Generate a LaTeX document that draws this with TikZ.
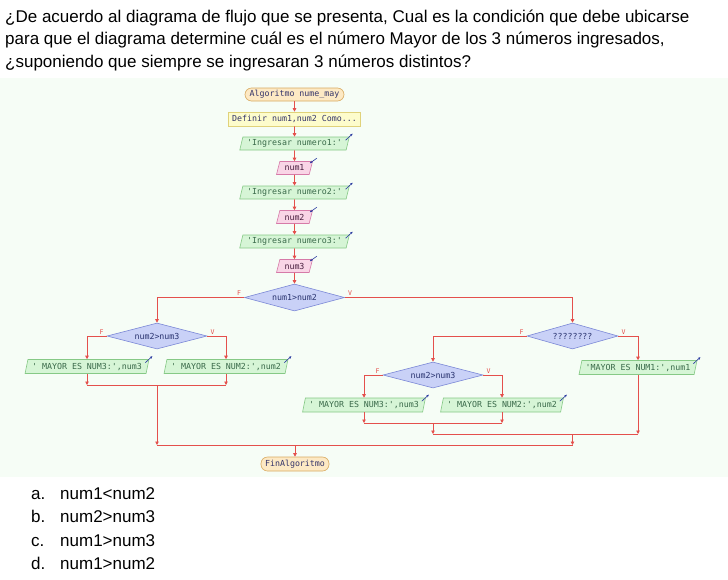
\documentclass[tikz,border=0pt]{standalone}
\usepackage{fontspec}
\setmainfont{Liberation Sans}
\newfontfamily\fmono[Ligatures=TeXOff]{DejaVu Sans Mono}
\usetikzlibrary{shapes.geometric,arrows.meta}
\definecolor{bgmint}{RGB}{246,253,246}
\definecolor{linered}{RGB}{228,80,76}
\definecolor{termfill}{RGB}{253,233,196}
\definecolor{termdraw}{RGB}{216,170,96}
\definecolor{deffill}{RGB}{253,252,204}
\definecolor{defdraw}{RGB}{224,210,122}
\definecolor{outfill}{RGB}{214,245,214}
\definecolor{outdraw}{RGB}{134,201,134}
\definecolor{infill}{RGB}{249,213,230}
\definecolor{indraw}{RGB}{214,122,168}
\definecolor{condfill}{RGB}{201,209,247}
\definecolor{conddraw}{RGB}{123,136,214}
\definecolor{txtblue}{RGB}{52,52,106}
\definecolor{txtgreen}{RGB}{58,106,74}
\definecolor{txtpink}{RGB}{74,32,64}
\definecolor{txtcond}{RGB}{42,52,112}
\definecolor{iconblue}{RGB}{42,58,160}
\tikzset{
  flow/.style={draw=linered, line width=0.8pt},
  arr/.style={flow, -{Triangle[length=3.5pt,width=3.5pt]}},
  base/.style={font=\fmono\fontsize{8.3}{9}\selectfont, inner sep=0pt, minimum height=13pt, line width=0.6pt},
  term/.style={base, rectangle, rounded corners=6.5pt, draw=termdraw, fill=termfill, text=txtblue},
  defbox/.style={base, rectangle, draw=defdraw, fill=deffill, text=txtblue, minimum height=14pt},
  io/.style={base, trapezium, trapezium left angle=70, trapezium right angle=110, trapezium stretches=true},
  outbox/.style={io, draw=outdraw, fill=outfill, text=txtgreen},
  inbox/.style={io, draw=indraw, fill=infill, text=txtpink},
  cond/.style={base, diamond, aspect=3.8, draw=conddraw, fill=condfill, text=txtcond, minimum height=26pt},
  lbl/.style={font=\fmono\fontsize{6.5}{7}\selectfont, text=linered, inner sep=0pt},
  icon/.style={draw=iconblue, line width=0.6pt, -{Stealth[length=2.6pt,width=2.4pt]}},
  qtext/.style={font=\fontsize{17}{20}\selectfont, inner sep=0pt, anchor=base west},
}
\begin{document}
\begin{tikzpicture}[x=1pt,y=-1pt]
\fill[white] (0,0) rectangle (728,579);
\useasboundingbox (0,0) rectangle (728,579);
\fill[bgmint] (0,78) rectangle (728,477);

% question
\node[qtext] (q1) at (5,22) {¿De acuerdo al diagrama de flujo que se presenta, Cual es la condición que debe ubicarse};
\node[qtext] (q2) at (5,44.5) {para que el diagrama determine cuál es el número Mayor de los 3 números ingresados,};
\node[qtext] (q3) at (5,67) {¿suponiendo que siempre se ingresaran 3 números distintos?};

% answers
\node[qtext] (la) at (31,499) {a.};
\node[qtext] (a) at (60,499) {num1<num2};
\node[qtext] (lb) at (31,522) {b.};
\node[qtext] (b) at (60,522) {num2>num3};
\node[qtext] (lc) at (31,546) {c.};
\node[qtext] (c) at (60,546) {num1>num3};
\node[qtext] (ld) at (31,569) {d.};
\node[qtext] (d) at (60,569) {num1>num2};

% main column
\node[term, minimum width=99pt] (start) at (294.5,94.5) {Algoritmo nume\_may};
\node[defbox, minimum width=132pt] (def) at (294.5,119) {Definir num1,num2 Como...};
\node[outbox, minimum width=110pt] (p1) at (294.5,143.5) {'Ingresar numero1:'};
\node[inbox, minimum width=36pt] (r1) at (294.5,168) {num1};
\node[outbox, minimum width=110pt] (p2) at (294.5,192.5) {'Ingresar numero2:'};
\node[inbox, minimum width=36pt] (r2) at (294.5,217) {num2};
\node[outbox, minimum width=110pt] (p3) at (294.5,241.5) {'Ingresar numero3:'};
\node[inbox, minimum width=36pt] (r3) at (294.5,266) {num3};
\node[cond, minimum width=100pt, minimum height=27pt] (c1) at (294.5,297.5) {num1>num2};

\draw[arr] (start) -- (def);
\draw[arr] (def) -- (p1);
\draw[arr] (p1) -- (r1);
\draw[arr] (r1) -- (p2);
\draw[arr] (p2) -- (r2);
\draw[arr] (r2) -- (p3);
\draw[arr] (p3) -- (r3);
\draw[arr] (r3) -- (c1);

% left branch
\node[cond, minimum width=100pt] (c2) at (157,336) {num2>num3};
\node[outbox, minimum width=124pt, minimum height=14pt] (oL3) at (87,366.5) {' MAYOR ES NUM3:',num3};
\node[outbox, minimum width=124pt, minimum height=14pt] (oL2) at (226,366.5) {' MAYOR ES NUM2:',num2};

% right branch
\node[cond, minimum width=91pt] (c3) at (572.5,336) {????????};
\node[outbox, minimum width=118pt, minimum height=14pt] (oR1) at (638,367.5) {'MAYOR ES NUM1:',num1};
\node[cond, minimum width=100pt] (c4) at (433,375) {num2>num3};
\node[outbox, minimum width=123pt, minimum height=14pt] (oR3) at (364,405) {' MAYOR ES NUM3:',num3};
\node[outbox, minimum width=123pt, minimum height=14pt] (oR2) at (502,405) {' MAYOR ES NUM2:',num2};

\node[term, minimum width=68pt, minimum height=14pt] (fin) at (295,464) {FinAlgoritmo};

% branch connectors
\draw[arr] (c1.west) -| (c2.north);
\draw[arr] (c1.east) -| (c3.north);
\draw[arr] (c2.west) -| (oL3.north);
\draw[arr] (c2.east) -| (oL2.north);
\draw[arr] (c3.west) -| (c4.north);
\draw[arr] (c3.east) -| (oR1.north);
\draw[arr] (c4.west) -| (oR3.north);
\draw[arr] (c4.east) -| (oR2.north);

% labels
\node[lbl, anchor=south east] (f1) at ([shift={(-3,-1.5)}]c1.west) {F};
\node[lbl, anchor=south west] (v1) at ([shift={(3,-1.5)}]c1.east) {V};
\node[lbl, anchor=south east] (f2) at ([shift={(-3,-1.5)}]c2.west) {F};
\node[lbl, anchor=south west] (v2) at ([shift={(3,-1.5)}]c2.east) {V};
\node[lbl, anchor=south east] (f3) at ([shift={(-3,-1.5)}]c3.west) {F};
\node[lbl, anchor=south west] (v3) at ([shift={(3,-1.5)}]c3.east) {V};
\node[lbl, anchor=south east] (f4) at ([shift={(-3,-1.5)}]c4.west) {F};
\node[lbl, anchor=south west] (v4) at ([shift={(3,-1.5)}]c4.east) {V};

% joins
\coordinate (jL) at (157,385);
\coordinate (jR4) at (433,423);
\coordinate (jR3) at (572.5,434);
\coordinate (jAll) at (295,445);

\draw[arr] (oL3.south) -- (oL3.south |- jL);
\draw[arr] (oL2.south) -- (oL2.south |- jL);
\draw[flow] (oL3.south |- jL) -- (oL2.south |- jL);
\draw[arr] (jL) -- (jL |- jAll);

\draw[arr] (oR3.south) -- (oR3.south |- jR4);
\draw[arr] (oR2.south) -- (oR2.south |- jR4);
\draw[flow] (oR3.south |- jR4) -- (oR2.south |- jR4);
\draw[arr] (jR4) -- (jR4 |- jR3);
\draw[arr] (oR1.south) -- (oR1.south |- jR3);
\draw[flow] (jR4 |- jR3) -- (oR1.south |- jR3);
\draw[arr] (jR3) -- (jR3 |- jAll);
\draw[flow] (jL |- jAll) -- (jR3 |- jAll);
\draw[arr] (jAll) -- (fin);

% io icons
\foreach \n in {p1,p2,p3,oL3,oL2,oR1,oR3,oR2}{
  \draw[icon] ([shift={(-4,3.5)}]\n.top right corner) -- ++(7,-6.5);
}
\foreach \n in {r1,r2,r3}{
  \draw[icon] ([shift={(4,-3)}]\n.top right corner) -- ++(-7,5);
}
\end{tikzpicture}
\end{document}
